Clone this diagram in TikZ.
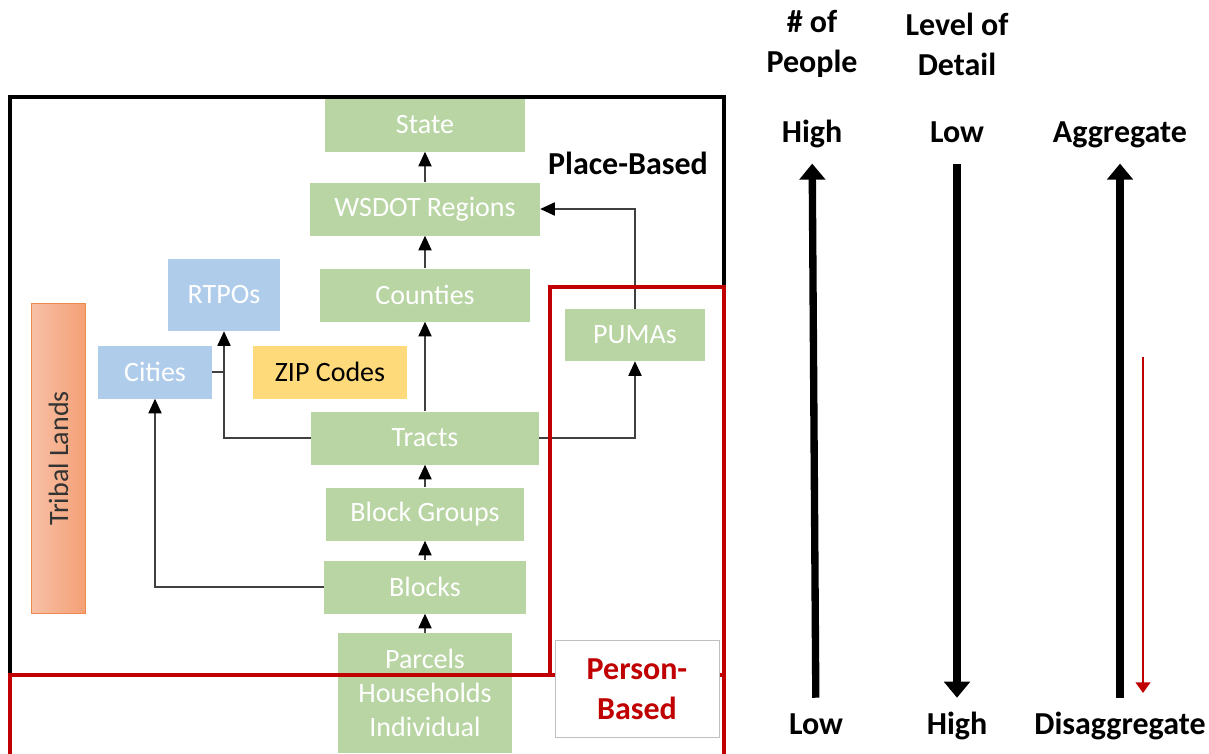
\documentclass[tikz,border=0pt]{standalone}
\usepackage{fontspec}
\usepackage{graphicx}
\setmainfont{Carlito}
\usetikzlibrary{arrows.meta}

\definecolor{geogreen}{HTML}{B8D5A3}
\definecolor{geoblue}{HTML}{AFCCEA}
\definecolor{zipyellow}{HTML}{FFDA7B}
\definecolor{triballeft}{HTML}{F7C0A6}
\definecolor{tribalright}{HTML}{F4A075}
\definecolor{tribaledge}{HTML}{EE8A4F}
\definecolor{personred}{HTML}{C00000}
\definecolor{conngray}{HTML}{404040}

\tikzset{
  unit/.style={inner sep=0pt, minimum height=39.75pt, font=\fontsize{21}{25}\selectfont},
  place/.style={unit, fill=geogreen, text=white},
  region/.style={unit, fill=geoblue, text=white},
  conn/.style={draw=conngray, line width=0.8pt, -{Triangle[width=10pt,length=11pt,color=black]}},
  link/.style={draw=conngray, line width=0.8pt},
  heading/.style={font=\bfseries\fontsize{24}{30}\selectfont, inner sep=0pt, align=center},
  scalelabel/.style={heading, text height=17pt, text depth=5pt},
  bigarrow/.style={line width=5.5pt, -{Triangle[width=19pt,length=12pt]}},
  outline/.style={line width=2.4pt}
}

\begin{document}
\begin{tikzpicture}[x=0.75pt,y=-0.75pt]
\clip (0,0) rectangle (1209,753);

% geography levels
\node[place, minimum width=150pt] (state) at (425,125) {State};
\node[place, minimum width=172.5pt] (wsdot) at (425,209) {WSDOT Regions};
\node[place, minimum width=158pt] (counties) at (425,295) {Counties};
\node[place, minimum width=171pt] (tracts) at (425,438) {Tracts};
\node[place, minimum width=148.5pt] (blockgroups) at (425,514) {Block Groups};
\node[place, minimum width=151.5pt] (blocks) at (425,587) {Blocks};
\node[place, minimum width=130pt, minimum height=90pt, align=center,
      font=\fontsize{21}{25.5}\selectfont] (parcels) at (425,693) {Parcels\\Households\\Individual};
\node[place, minimum width=105pt, minimum height=39pt] (pumas) at (635,335) {PUMAs};

\node[region, minimum width=84pt, minimum height=54pt] (rtpos) at (224,295) {RTPOs};
\node[region, minimum width=85pt] (cities) at (155,372) {Cities};
\node[unit, fill=zipyellow, minimum width=116pt] (zip) at (330,372) {ZIP Codes};

\node[unit, left color=triballeft, right color=tribalright, draw=tribaledge, line width=0.6pt,
      minimum width=41pt, minimum height=233pt, text=black!80] (tribal) at (58.5,458.5)
      {\rotatebox{90}{Tribal Lands}};

% hierarchy
\foreach \from/\to in {parcels/blocks, blocks/blockgroups, blockgroups/tracts,
                       tracts/counties, counties/wsdot, wsdot/state}
  \draw[conn] (\from.north) -- (\to.south);

\draw[conn] (tracts.west) -| (rtpos.south);
\draw[link] (cities.east) -- (cities.east -| rtpos.south);
\draw[conn] (blocks.west) -| (cities.south);
\draw[conn] (tracts.east) -| (pumas.south);
\draw[conn] (pumas.north) |- (wsdot.east);

% place / person frames
\draw[outline] (10,97) rectangle (724,675);
\draw[outline, personred] (550,675) -- (550,287) -- (724,287) -- (724,770);
\draw[outline, personred] (10,770) -- (10,675) -- (724,675);

\node[heading] (placebased) at (628,163) {Place-Based};
\node[heading, fill=white, draw=black!25, line width=0.75pt, text=personred,
      minimum width=123pt, minimum height=73pt] (personbased) at (637,689) {Person-\\Based};

% scales
\node[heading] (people) at (812,44) {\# of\\People};
\node[heading] (detail) at (957,44) {Level of\\Detail};

\node[scalelabel] (pplhigh) at (812,134) {High};
\node[scalelabel] (ppllow) at (816,726) {Low};
\node[scalelabel] (detlow) at (957,134) {Low};
\node[scalelabel] (dethigh) at (957,726) {High};
\node[scalelabel] (aggr) at (1120,134) {Aggregate};
\node[scalelabel] (disaggr) at (1120,726) {Disaggregate};

\draw[bigarrow, shorten <=10pt, shorten >=11pt] (ppllow) -- (pplhigh);
\draw[bigarrow, shorten <=11pt, shorten >=10pt] (detlow) -- (dethigh);
\draw[bigarrow, shorten <=10pt, shorten >=11pt] (disaggr) -- (aggr);

\coordinate (redstart) at (1143,357);
\coordinate (redend) at (1143,693);
\draw[personred, line width=1.5pt, -{Triangle[width=11pt,length=8pt]}] (redstart) -- (redend);
\end{tikzpicture}
\end{document}
